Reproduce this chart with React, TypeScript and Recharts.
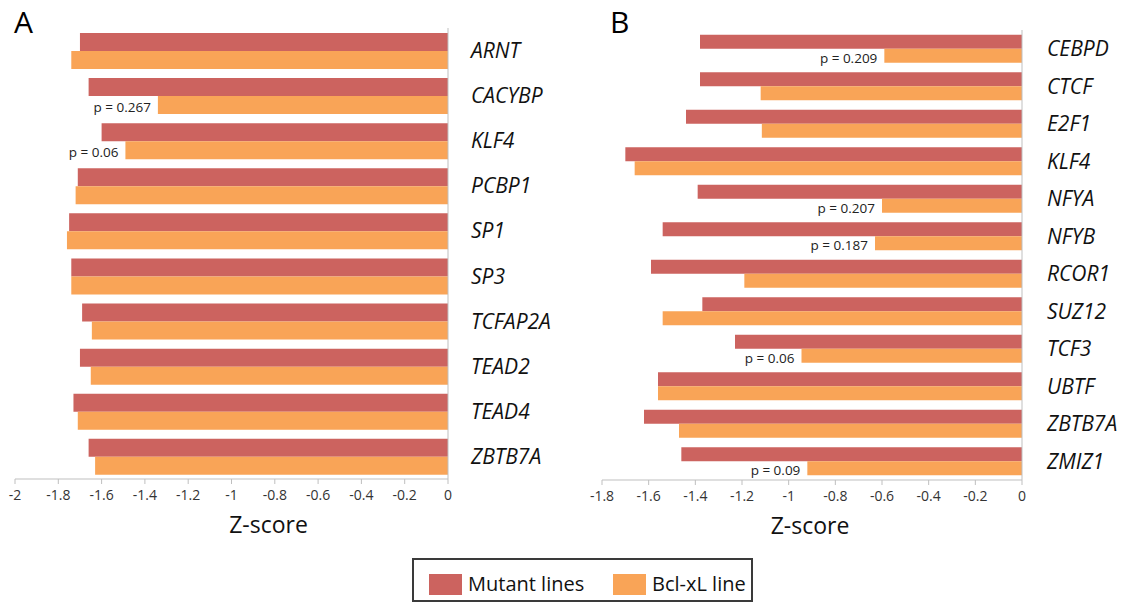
import { BarChart, Bar, XAxis, YAxis, LabelList } from "recharts";

const FONT = "'Open Sans', sans-serif";
const RED = "#CC635F";
const ORANGE = "#F9A457";
const AXIS_GRAY = "#BFBFBF";

const seriesNames = ["Mutant lines", "Bcl-xL line"];

// panel A
const genesA = ["ARNT", "CACYBP", "KLF4", "PCBP1", "SP1", "SP3", "TCFAP2A", "TEAD2", "TEAD4", "ZBTB7A"];
const mutantA = [-1.7, -1.66, -1.6, -1.71, -1.75, -1.74, -1.69, -1.7, -1.73, -1.66];
const bclA = [-1.74, -1.34, -1.49, -1.72, -1.76, -1.74, -1.645, -1.65, -1.71, -1.63];
const pA = [null, 0.267, 0.06, null, null, null, null, null, null, null];
const ticksA = [-2, -1.8, -1.6, -1.4, -1.2, -1, -0.8, -0.6, -0.4, -0.2, 0];

// panel B
const genesB = ["CEBPD", "CTCF", "E2F1", "KLF4", "NFYA", "NFYB", "RCOR1", "SUZ12", "TCF3", "UBTF", "ZBTB7A", "ZMIZ1"];
const mutantB = [-1.38, -1.38, -1.44, -1.7, -1.39, -1.54, -1.59, -1.37, -1.23, -1.56, -1.62, -1.46];
const bclB = [-0.59, -1.12, -1.115, -1.66, -0.6, -0.63, -1.19, -1.54, -0.945, -1.56, -1.47, -0.92];
const pB = [0.209, null, null, null, 0.207, 0.187, null, null, 0.06, null, null, 0.09];
const ticksB = [-1.8, -1.6, -1.4, -1.2, -1, -0.8, -0.6, -0.4, -0.2, 0];

function PLabel(props: any) {
  const { x, y, width, height, value } = props;
  if (value === null || value === undefined) return null;
  const left = Math.min(x, x + width);
  return (
    <text
      x={left - 7}
      y={y + height / 2 + 2}
      textAnchor="end"
      dominantBaseline="central"
      fontSize={13.5}
      fontFamily={FONT}
      fill="#222"
    >
      {"p = " + value}
    </text>
  );
}

interface PanelProps {
  genes: string[];
  mutant: number[];
  bcl: number[];
  p: (number | null)[];
  ticks: number[];
  width: number;
  height: number;
  top: number;
  left: number;
  yWidth: number;
  labelGap: number;
  catGap: string;
  titleDx: number;
}

function Panel(props: PanelProps) {
  const data = props.genes.map((g, i) => ({
    name: g,
    mutant: props.mutant[i],
    bcl: props.bcl[i],
    p: props.p[i],
  }));
  return (
    <BarChart
      width={props.width}
      height={props.height}
      data={data}
      layout="vertical"
      margin={{ top: props.top, right: 0, bottom: 0, left: props.left }}
      barGap={0}
      barCategoryGap={props.catGap}
    >
      <XAxis
        type="number"
        domain={[props.ticks[0], 0]}
        ticks={props.ticks}
        interval={0}
        height={72}
        stroke={AXIS_GRAY}
        tickSize={5}
        tickMargin={6}
        tick={{ fill: "#333", fontSize: 14, fontFamily: FONT }}
        tickFormatter={(v: number) => String(v)}
        label={{
          value: "Z-score",
          position: "insideBottom",
          offset: 18,
          dx: props.titleDx,
          fontSize: 23,
          fontFamily: FONT,
          fill: "#111",
        }}
      />
      <YAxis
        type="category"
        dataKey="name"
        orientation="right"
        width={props.yWidth}
        stroke={AXIS_GRAY}
        tickLine={false}
        tickSize={0}
        tickMargin={props.labelGap}
        interval={0}
        tick={{ fill: "#111", fontSize: 21, fontStyle: "italic", fontFamily: FONT, textAnchor: "start" }}
      />
      <Bar dataKey="mutant" name={seriesNames[0]} fill={RED} isAnimationActive={false} />
      <Bar dataKey="bcl" name={seriesNames[1]} fill={ORANGE} isAnimationActive={false}>
        <LabelList dataKey="p" content={PLabel} />
      </Bar>
    </BarChart>
  );
}

export default function App() {
  const colors = [RED, ORANGE];
  const legendX = [15, 199];
  return (
    <div
      style={{
        position: "absolute",
        left: 0,
        top: 0,
        width: 1122,
        height: 605,
        background: "#fff",
        fontFamily: FONT,
        overflow: "hidden",
      }}
    >
      <div style={{ position: "absolute", left: 0, top: 0 }}>
        <Panel
          genes={genesA}
          mutant={mutantA}
          bcl={bclA}
          p={pA}
          ticks={ticksA}
          width={560}
          height={551}
          top={28}
          left={15}
          yWidth={112}
          labelGap={23}
          catGap="11%"
          titleDx={37}
        />
      </div>
      <div style={{ position: "absolute", left: 560, top: 0 }}>
        <Panel
          genes={genesB}
          mutant={mutantB}
          bcl={bclB}
          p={pB}
          ticks={ticksB}
          width={562}
          height={552}
          top={30}
          left={42}
          yWidth={100}
          labelGap={25}
          catGap="12.5%"
          titleDx={-2}
        />
      </div>
      <div style={{ position: "absolute", left: 14, top: 7, fontSize: 30, lineHeight: 1 }}>A</div>
      <div style={{ position: "absolute", left: 610, top: 7, fontSize: 30, lineHeight: 1 }}>B</div>
      <div
        style={{
          position: "absolute",
          left: 412,
          top: 558,
          width: 341,
          height: 44,
          border: "2px solid #3a3a3a",
          boxSizing: "border-box",
        }}
      >
        {seriesNames.map((n, i) => (
          <div key={n} style={{ position: "absolute", left: legendX[i], top: 14 }}>
            <div style={{ position: "absolute", left: 0, top: 0, width: 33, height: 21, background: colors[i] }} />
            <div
              style={{
                position: "absolute",
                left: 39,
                top: -3,
                fontSize: 20,
                lineHeight: "26px",
                whiteSpace: "nowrap",
                color: "#111",
              }}
            >
              {n}
            </div>
          </div>
        ))}
      </div>
    </div>
  );
}
